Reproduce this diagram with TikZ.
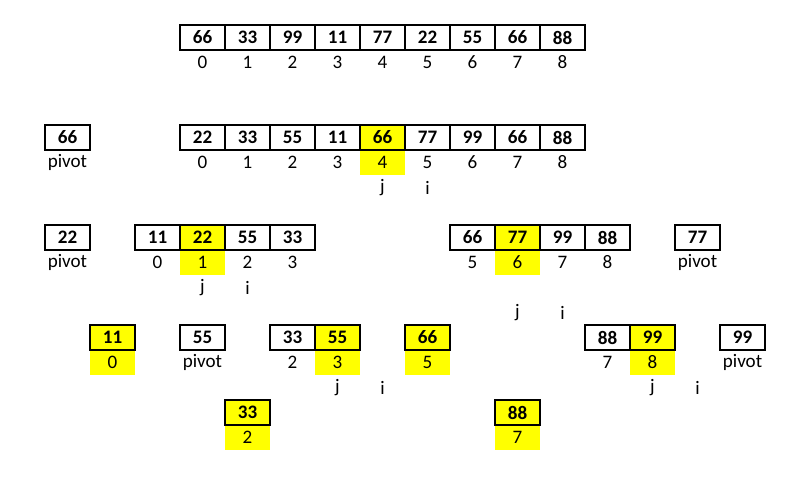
\documentclass[tikz,border=0pt]{standalone}
\usepackage{fontspec}
\setmainfont{Carlito}
\usetikzlibrary{positioning}
\definecolor{hilite}{RGB}{255,255,0}

\begin{document}
\begin{tikzpicture}[x=33.75pt,y=-18.75pt,
	every node/.style={font=\fontsize{14.3}{16}\selectfont,inner sep=0pt,
		minimum width=33.75pt,minimum height=18.75pt},
	cell/.style={draw=black,line width=0.8pt,font=\fontsize{14.3}{16}\selectfont\bfseries},
	hicell/.style={cell,fill=hilite},
	idx/.style={},
	hiidx/.style={fill=hilite}]
	\useasboundingbox (0,0) rectangle (18.022,19.04);
	% start array
	\foreach \v [count=\k from 0] in {66,33,99,11,77,22,55,66,88}{
		\node[idx] (ai\k) at (4.5+\k,2.5) {\k};
		\node[cell] (a\k) at (4.5+\k,1.5) {\v};
	}
	% first partition, pivot 66
	\node[cell] (pa) at (1.5,5.5) {66};
	\node[idx] (pal) at (1.5,6.5) {pivot};
	\foreach \v/\st/\sx [count=\k from 0] in {22/cell/idx,33/cell/idx,55/cell/idx,11/cell/idx,66/hicell/hiidx,77/cell/idx,99/cell/idx,66/cell/idx,88/cell/idx}{
		\node[\sx] (bi\k) at (4.5+\k,6.5) {\k};
		\node[\st] (b\k) at (4.5+\k,5.5) {\v};
	}
	\node[idx] (bj) at (8.5,7.5) {j};
	\node[idx] (bii) at (9.5,7.5) {i};
	% left part, pivot 22
	\node[cell] (pb) at (1.5,9.5) {22};
	\node[idx] (pbl) at (1.5,10.5) {pivot};
	\foreach \v/\st/\sx [count=\k from 0] in {11/cell/idx,22/hicell/hiidx,55/cell/idx,33/cell/idx}{
		\node[\sx] (ci\k) at (3.5+\k,10.5) {\k};
		\node[\st] (c\k) at (3.5+\k,9.5) {\v};
	}
	\node[idx] (cj) at (4.5,11.5) {j};
	\node[idx] (cii) at (5.5,11.5) {i};
	% right part, pivot 77
	\foreach \v/\st/\sx [count=\k from 5] in {66/cell/idx,77/hicell/hiidx,99/cell/idx,88/cell/idx}{
		\node[\sx] (di\k) at (5.5+\k,10.5) {\k};
		\node[\st] (d\k) at (5.5+\k,9.5) {\v};
	}
	\node[cell] (pc) at (15.5,9.5) {77};
	\node[idx] (pcl) at (15.5,10.5) {pivot};
	\node[idx] (dj) at (11.5,12.5) {j};
	\node[idx] (dii) at (12.5,12.5) {i};
	% third level
	\node[hiidx] (ei0) at (2.5,14.5) {0};
	\node[hicell] (e0) at (2.5,13.5) {11};
	\node[cell] (pd) at (4.5,13.5) {55};
	\node[idx] (pdl) at (4.5,14.5) {pivot};
	\node[idx] (fi2) at (6.5,14.5) {2};
	\node[cell] (f2) at (6.5,13.5) {33};
	\node[hiidx] (fi3) at (7.5,14.5) {3};
	\node[hicell] (f3) at (7.5,13.5) {55};
	\node[idx] (fj) at (7.5,15.5) {j};
	\node[idx] (fii) at (8.5,15.5) {i};
	\node[hiidx] (gi5) at (9.5,14.5) {5};
	\node[hicell] (g5) at (9.5,13.5) {66};
	\node[idx] (hi7) at (13.5,14.5) {7};
	\node[cell] (h7) at (13.5,13.5) {88};
	\node[hiidx] (hi8) at (14.5,14.5) {8};
	\node[hicell] (h8) at (14.5,13.5) {99};
	\node[cell] (pe) at (16.5,13.5) {99};
	\node[idx] (pel) at (16.5,14.5) {pivot};
	\node[idx] (hj) at (14.5,15.5) {j};
	\node[idx] (hii) at (15.5,15.5) {i};
	% last level
	\node[hiidx] (ki2) at (5.5,17.5) {2};
	\node[hicell] (k2) at (5.5,16.5) {33};
	\node[hiidx] (li7) at (11.5,17.5) {7};
	\node[hicell] (l7) at (11.5,16.5) {88};
\end{tikzpicture}
\end{document}
